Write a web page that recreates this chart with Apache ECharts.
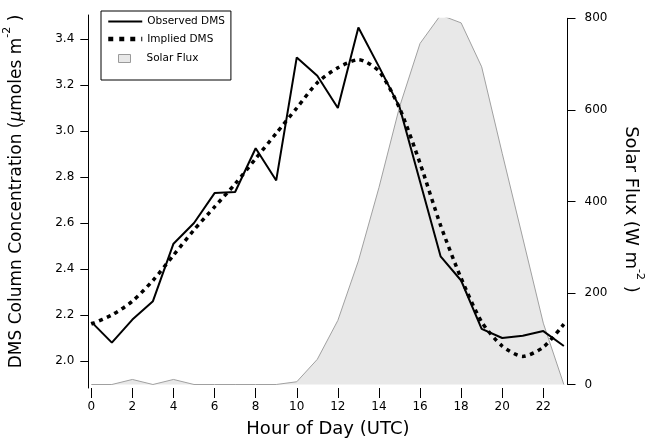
<!DOCTYPE html>
<html>
<head>
<meta charset="utf-8">
<script src="https://cdn.jsdelivr.net/npm/echarts@6/dist/echarts.min.js"></script>
<style>
  html, body { margin: 0; padding: 0; background: #fff; }
  #chart { width: 654px; height: 439px; }
</style>
</head>
<body>
<div id="chart"></div>
<script>
// Diurnal DMS column concentration vs. solar flux
const hours = [0, 1, 2, 3, 4, 5, 6, 7, 8, 9, 10, 11, 12, 13, 14, 15, 16, 17, 18, 19, 20, 21, 22, 23];
const observedDMS = [2.17, 2.08, 2.18, 2.26, 2.51, 2.60, 2.73, 2.735, 2.925, 2.785, 3.32, 3.24,
                     3.10, 3.45, 3.28, 3.105, 2.78, 2.455, 2.35, 2.14, 2.10, 2.11, 2.13, 2.065];
const impliedDMS = [2.16, 2.20, 2.26, 2.35, 2.46, 2.57, 2.67, 2.77, 2.88, 2.99, 3.10, 3.21,
                    3.275, 3.31, 3.26, 3.10, 2.86, 2.59, 2.36, 2.17, 2.065, 2.02, 2.06, 2.16];
const solarFlux = [0, 0, 11, 0, 11, 0, 0, 0, 0, 0, 6, 55,
                   140, 270, 430, 606, 745, 807, 790, 694, 505, 320, 134, 0];
const hourTicks = [0, 2, 4, 6, 8, 10, 12, 14, 16, 18, 20, 22];
const dmsTicks = [2.0, 2.2, 2.4, 2.6, 2.8, 3.0, 3.2, 3.4];
const fluxTicks = [0, 200, 400, 600, 800];

const pairs = (ys) => hours.map((h, i) => [h, ys[i]]);

const FONT = 'DejaVu Sans';
const chart = echarts.init(document.getElementById('chart'), null, { renderer: 'canvas' });

const xRange = { min: -0.146, max: 23.178 };

chart.setOption({
  animation: false,
  backgroundColor: '#fff',
  textStyle: { fontFamily: FONT, color: '#000' },
  grid: [
    { left: 88.3, right: 86.5, top: 15, bottom: 51, containLabel: false, outerBoundsMode: 'none' },
    { left: 88.3, right: 86.5, top: 18.3, bottom: 54.5, containLabel: false, outerBoundsMode: 'none' }
  ],
  legend: [
    {
      left: 101, top: 11,
      orient: 'vertical',
      data: [
        { name: 'Observed DMS', lineStyle: { width: 2, type: 'solid' } },
        { name: 'Implied DMS', lineStyle: { width: 4.5, type: [5, 6], cap: 'butt' } }
      ],
      itemWidth: 34, itemHeight: 10, itemGap: 6.5,
      padding: [5, 6, 35.5, 5],
      borderColor: '#000', borderWidth: 1, backgroundColor: '#fff',
      itemStyle: { opacity: 0 },
      textStyle: { fontFamily: FONT, fontSize: 10.5, color: '#000' }
    },
    {
      left: 118, top: 53,
      orient: 'vertical',
      data: [{ name: 'Solar Flux', icon: 'rect',
               itemStyle: { color: '#e8e8e8', borderColor: '#9a9a9a', borderWidth: 1 } }],
      itemWidth: 12, itemHeight: 8,
      padding: 0,
      textStyle: { fontFamily: FONT, fontSize: 10.5, color: '#000', padding: [0, 0, 0, 11] }
    }
  ],
  xAxis: [
    {
      type: 'value', gridIndex: 0, min: xRange.min, max: xRange.max,
      name: 'Hour of Day (UTC)', nameLocation: 'middle', nameGap: 32,
      nameTextStyle: { fontFamily: FONT, fontSize: 18, color: '#000' },
      axisLine: { show: true, onZero: false, lineStyle: { color: 'rgba(0,0,0,0)', width: 1 } },
      axisTick: { show: true, customValues: hourTicks, length: 10, inside: false,
                  lineStyle: { color: '#000', width: 1 } },
      axisLabel: { customValues: hourTicks, margin: 13, fontFamily: FONT, fontSize: 12, color: '#000' },
      splitLine: { show: false }
    },
    {
      type: 'value', gridIndex: 1, min: xRange.min, max: xRange.max, show: false,
      axisLine: { onZero: false }
    }
  ],
  yAxis: [
    {
      type: 'value', gridIndex: 0, position: 'left',
      min: 1.88261, max: 3.50435,
      name: '{t|DMS Column Concentration (}{it|μ}{t|moles m}{sup|-2}{t| )}',
      nameLocation: 'middle', nameGap: 63, nameRotate: 90,
      nameTextStyle: {
        fontFamily: FONT, fontSize: 17, color: '#000', padding: [0, 0, 0, 20],
        rich: {
          t: { fontFamily: FONT, fontSize: 17, lineHeight: 24, verticalAlign: 'bottom' },
          it: { fontFamily: FONT, fontSize: 17, fontStyle: 'italic', lineHeight: 24, verticalAlign: 'bottom' },
          sup: { fontFamily: FONT, fontSize: 11, lineHeight: 11, verticalAlign: 'top' }
        }
      },
      axisLine: { show: true, onZero: false, lineStyle: { color: '#000', width: 1 } },
      axisTick: { show: true, customValues: dmsTicks, length: 8, inside: false,
                  lineStyle: { color: '#000', width: 1 } },
      axisLabel: { customValues: dmsTicks, margin: 14, fontFamily: FONT, fontSize: 12, color: '#000',
                   formatter: (v) => Number(v).toFixed(1) },
      splitLine: { show: false }
    },
    {
      type: 'value', gridIndex: 1, position: 'right',
      min: 0, max: 800, interval: 200,
      name: '{t|Solar Flux (W m}{sup|-2}{t| )}',
      nameLocation: 'middle', nameGap: 54, nameRotate: -90,
      nameTextStyle: {
        fontFamily: FONT, fontSize: 18, color: '#000', padding: [0, 0, 0, 16],
        rich: {
          t: { fontFamily: FONT, fontSize: 18, lineHeight: 24, verticalAlign: 'bottom' },
          sup: { fontFamily: FONT, fontSize: 11, lineHeight: 11, verticalAlign: 'top' }
        }
      },
      axisLine: { show: true, onZero: false, lineStyle: { color: '#000', width: 1 } },
      axisTick: { show: true, customValues: fluxTicks, length: 8, inside: false,
                  lineStyle: { color: '#000', width: 1 } },
      axisLabel: { customValues: fluxTicks, margin: 17, fontFamily: FONT, fontSize: 12, color: '#000' },
      splitLine: { show: false }
    }
  ],
  series: [
    {
      name: 'Solar Flux', type: 'line', xAxisIndex: 1, yAxisIndex: 1,
      data: pairs(solarFlux),
      symbol: 'none',
      lineStyle: { color: '#a0a0a0', width: 1 },
      itemStyle: { color: '#e8e8e8', borderColor: '#9a9a9a' },
      areaStyle: { color: '#e8e8e8', opacity: 1 },
      z: 1
    },
    {
      name: 'Observed DMS', type: 'line', xAxisIndex: 0, yAxisIndex: 0,
      data: pairs(observedDMS),
      symbol: 'none',
      lineStyle: { color: '#000', width: 2 },
      itemStyle: { color: '#000' },
      z: 3
    },
    {
      name: 'Implied DMS', type: 'line', xAxisIndex: 0, yAxisIndex: 0,
      data: pairs(impliedDMS),
      symbol: 'none', smooth: 0.25,
      lineStyle: { color: '#000', width: 3.5, type: [4, 4.5], cap: 'butt' },
      itemStyle: { color: '#000' },
      z: 3
    }
  ]
});
</script>
</body>
</html>
